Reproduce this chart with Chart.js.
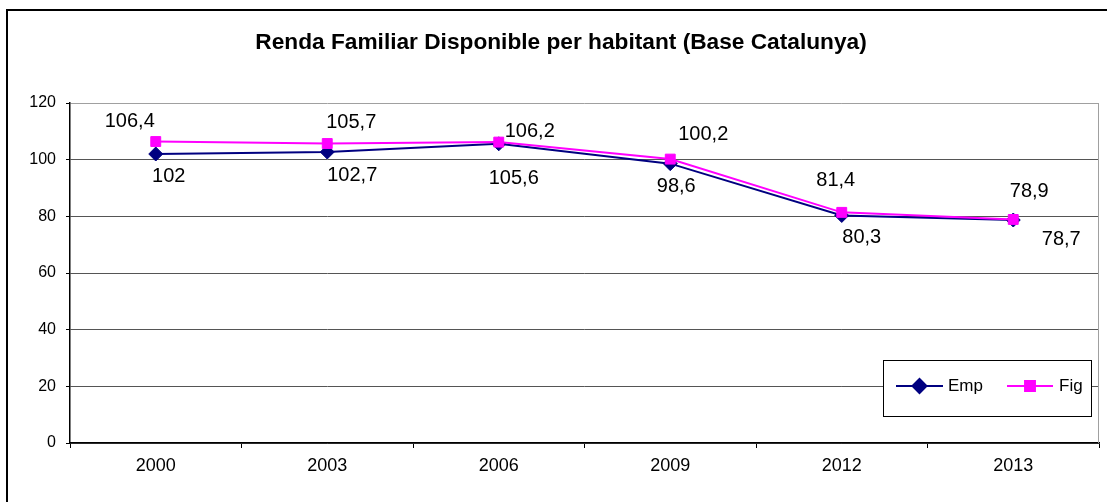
<!DOCTYPE html>
<html>
<head>
<meta charset="utf-8">
<script src="https://cdn.jsdelivr.net/npm/chart.js@4.4.1/dist/chart.umd.min.js"></script>
<style>
  html, body { margin: 0; padding: 0; background: #fff; }
  #wrap { width: 1107px; height: 502px; position: relative; }
</style>
</head>
<body>
<div id="wrap"><canvas id="c" width="1107" height="502"></canvas></div>
<script>
// ---- data ----
const categories = ['2000', '2003', '2006', '2009', '2012', '2013'];
const empValues = [102, 102.7, 105.6, 98.6, 80.3, 78.7];
const figValues = [106.4, 105.7, 106.2, 100.2, 81.4, 78.9];
const yTicks = [0, 20, 40, 60, 80, 100, 120];
const titleText = 'Renda Familiar Disponible per habitant (Base Catalunya)';
const seriesNames = ['Emp', 'Fig'];

// label placement (offset of label centre from its point, px)
const empLabelOffsets = [[13, 22], [25, 23], [15, 35], [6, 23], [20, 22], [48, 19]];
const figLabelOffsets = [[-26, -20], [24, -21], [31, -11], [33, -25], [-6, -32], [16, -28]];

const FONT = "'Liberation Sans', Arial, sans-serif";
const EMP_COLOR = '#000080';
const FIG_COLOR = '#FF00FF';

const frameAndLabels = {
  id: 'frameAndLabels',
  afterDatasetsDraw(chart) {
    const ctx = chart.ctx;
    const ca = chart.chartArea;
    ctx.save();
    // plot area right border (light gray)
    ctx.strokeStyle = '#a0a0a0';
    ctx.lineWidth = 1;
    ctx.beginPath();
    ctx.moveTo(ca.right - 0.5, ca.top);
    ctx.lineTo(ca.right - 0.5, ca.bottom);
    ctx.stroke();

    // data labels
    ctx.fillStyle = '#000';
    ctx.font = '20px ' + FONT;
    ctx.textAlign = 'center';
    ctx.textBaseline = 'middle';
    const offs = [empLabelOffsets, figLabelOffsets];
    chart.data.datasets.forEach((ds, di) => {
      const meta = chart.getDatasetMeta(di);
      meta.data.forEach((pt, i) => {
        const v = ds.data[i];
        const txt = String(v).replace('.', ',');
        const o = offs[di][i];
        ctx.fillText(txt, pt.x + o[0], pt.y + o[1]);
      });
    });

    // legend
    const lx = 883, ly = 360, lw = 208, lh = 56;
    ctx.fillStyle = '#fff';
    ctx.fillRect(lx, ly, lw, lh);
    ctx.strokeStyle = '#000';
    ctx.lineWidth = 1;
    ctx.strokeRect(lx + 0.5, ly + 0.5, lw, lh);
    const cy = 386;
    const entries = [
      { x0: 896, x1: 943, tx: 948, color: EMP_COLOR, style: 'rectRot', name: seriesNames[0] },
      { x0: 1007, x1: 1053, tx: 1059, color: FIG_COLOR, style: 'rect', name: seriesNames[1] }
    ];
    entries.forEach(e => {
      ctx.strokeStyle = e.color;
      ctx.lineWidth = 2;
      ctx.beginPath();
      ctx.moveTo(e.x0, cy);
      ctx.lineTo(e.x1, cy);
      ctx.stroke();
      ctx.fillStyle = e.color;
      Chart.helpers.drawPoint(ctx, { pointStyle: e.style, radius: 7, borderWidth: 1 }, (e.x0 + e.x1) / 2, cy);
      ctx.fill();
      ctx.fillStyle = '#000';
      ctx.font = '17px ' + FONT;
      ctx.textAlign = 'left';
      ctx.textBaseline = 'middle';
      ctx.fillText(e.name, e.tx, cy);
    });
    ctx.restore();
  },
  afterDraw(chart) {
    const ctx = chart.ctx;
    ctx.save();
    // outer chart border
    ctx.strokeStyle = '#000';
    ctx.lineWidth = 2;
    ctx.strokeRect(7, 10, 1120, 520);
    // title
    ctx.fillStyle = '#000';
    ctx.font = 'bold 22.7px ' + FONT;
    ctx.textAlign = 'center';
    ctx.textBaseline = 'middle';
    ctx.fillText(titleText, 561, 43);
    ctx.restore();
  }
};

new Chart(document.getElementById('c'), {
  type: 'line',
  data: {
    labels: categories,
    datasets: [
      {
        label: seriesNames[0],
        data: empValues,
        borderColor: EMP_COLOR,
        backgroundColor: EMP_COLOR,
        borderWidth: 2,
        pointStyle: 'rectRot',
        pointRadius: 7,
        pointBorderWidth: 1,
        tension: 0,
        order: 1
      },
      {
        label: seriesNames[1],
        data: figValues,
        borderColor: FIG_COLOR,
        backgroundColor: FIG_COLOR,
        borderWidth: 2,
        pointStyle: 'rect',
        pointRadius: 7,
        pointBorderWidth: 1,
        tension: 0,
        order: 0
      }
    ]
  },
  options: {
    responsive: false,
    animation: false,
    devicePixelRatio: 1,
    layout: { padding: { top: 103, right: 1, bottom: 0, left: 0 } },
    plugins: {
      legend: { display: false },
      title: { display: false },
      tooltip: { enabled: false }
    },
    scales: {
      x: {
        type: 'category',
        offset: true,
        grid: {
          display: true,
          drawOnChartArea: false,
          offset: true,
          tickLength: 5,
          tickColor: '#000',
          color: '#000'
        },
        border: { display: true, color: '#000', width: 1.5 },
        ticks: {
          color: '#000',
          font: { family: FONT, size: 18 },
          padding: 7,
          maxRotation: 0
        },
        afterFit(s) { s.height = 59; }
      },
      y: {
        min: 0,
        max: 120,
        afterBuildTicks(s) { s.ticks = yTicks.map(v => ({ value: v })); },
        grid: {
          color: ctx => (ctx.tick && ctx.tick.value === 120) ? '#a0a0a0' : '#555',
          lineWidth: 1,
          tickLength: 4,
          tickColor: '#000'
        },
        border: { display: true, color: '#000', width: 1.5 },
        ticks: {
          color: '#000',
          font: { family: FONT, size: 16 },
          padding: 10
        },
        afterFit(s) { s.width = 70; }
      }
    }
  },
  plugins: [frameAndLabels]
});
</script>
</body>
</html>
